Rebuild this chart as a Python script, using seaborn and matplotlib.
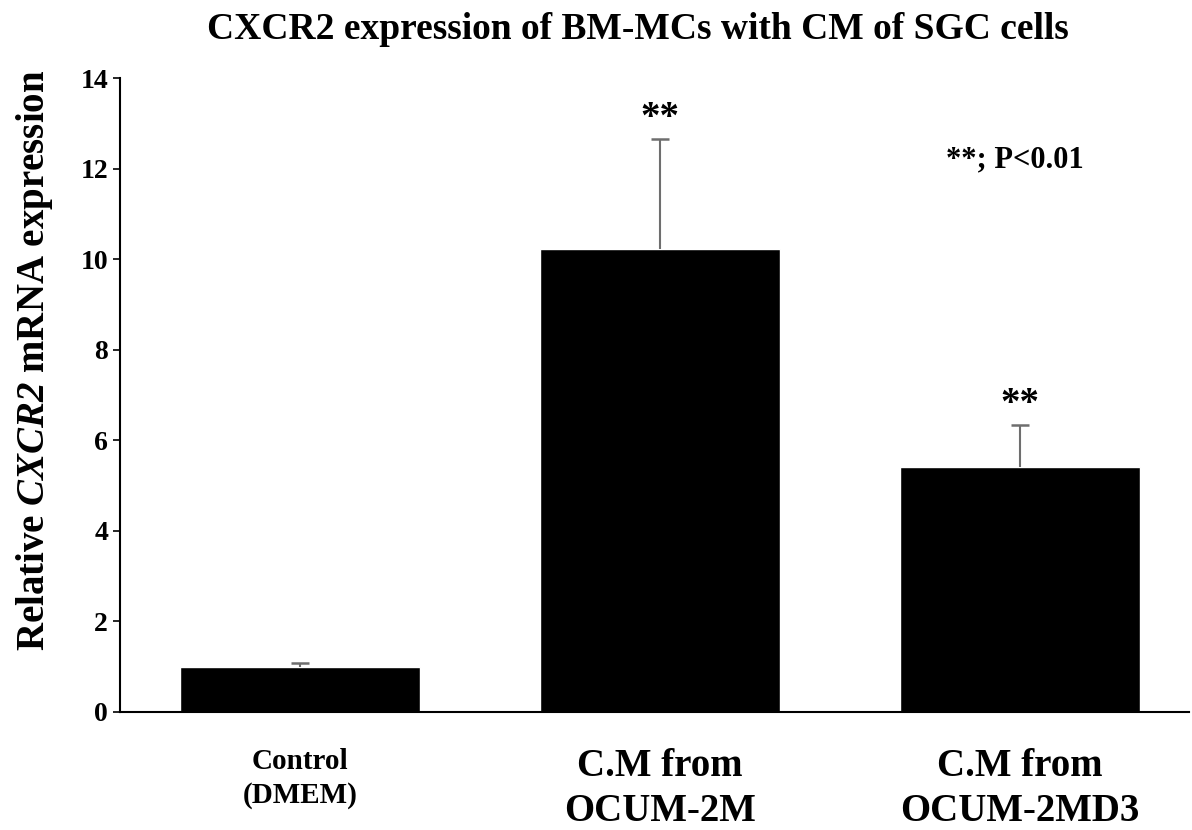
import seaborn as sns
import matplotlib.pyplot as plt
import pandas as pd

groups = ["Control\n(DMEM)", "C.M from\nOCUM-2M", "C.M from\nOCUM-2MD3"]
means = [1.0, 10.23, 5.40]
errs = [0.08, 2.42, 0.93]
stars = ["", "**", "**"]

df = pd.DataFrame({"group": groups, "value": means})

sns.set_style("ticks")
plt.rcParams["font.family"] = ["Liberation Serif", "DejaVu Serif"]
plt.rcParams["font.weight"] = "bold"
plt.rcParams["mathtext.fontset"] = "custom"
plt.rcParams["mathtext.bfit"] = "Liberation Serif:bold:italic"
plt.rcParams["mathtext.it"] = "Liberation Serif:italic"
plt.rcParams["mathtext.bf"] = "Liberation Serif:bold"
plt.rcParams["mathtext.rm"] = "Liberation Serif"
for key in ["text.color", "axes.labelcolor", "xtick.color", "ytick.color", "axes.edgecolor"]:
    plt.rcParams[key] = "black"

fig = plt.figure(figsize=(11.92, 8.3), dpi=100)
ax = fig.add_axes([0.1007, 0.1422, 0.897, 0.7638])

sns.barplot(data=df, x="group", y="value", color="black", width=0.665,
            errorbar=None, saturation=1, ax=ax)

# upper error bars only
tops = [m + e for m, e in zip(means, errs)]
xs = list(range(len(means)))
ax.vlines(xs, means, tops, color="#6e6e6e", linewidth=1.5, zorder=3)
ax.hlines(tops, [x - 0.025 for x in xs], [x + 0.025 for x in xs],
          color="#6e6e6e", linewidth=1.8, zorder=3)

for i, s in enumerate(stars):
    if s:
        ax.text(i, tops[i] + 0.05, s, ha="center", va="bottom",
                fontsize=28, fontweight="bold")

ax.text(1.985, 12.2, "**; P<0.01", ha="center", va="center", fontsize=22, fontweight="bold")

ax.set_xlim(-0.5, 2.47)
ax.set_ylim(0, 14)
ax.set_yticks(range(0, 15, 2))
ax.tick_params(axis="y", labelsize=20, length=5, width=1.2)
ax.tick_params(axis="x", length=0, pad=26)
for lbl, size in zip(ax.get_xticklabels(), [21, 28, 28]):
    lbl.set_fontsize(size)
    lbl.set_fontweight("bold")
    lbl.set_linespacing(1.3)
for lbl in ax.get_yticklabels():
    lbl.set_fontweight("bold")

ax.set_xlabel("")
ax.set_ylabel(r"Relative $\bfit{CXCR2}$ mRNA expression", fontsize=28, fontweight="bold")
ax.yaxis.set_label_coords(-0.061, 0.554)

sns.despine(ax=ax)
for sp in ["left", "bottom"]:
    ax.spines[sp].set_linewidth(1.5)

fig.suptitle("CXCR2 expression of BM-MCs with CM of SGC cells", fontsize=27,
             fontweight="bold", x=0.535, y=0.985)

fig.savefig("out.png", dpi=100)
